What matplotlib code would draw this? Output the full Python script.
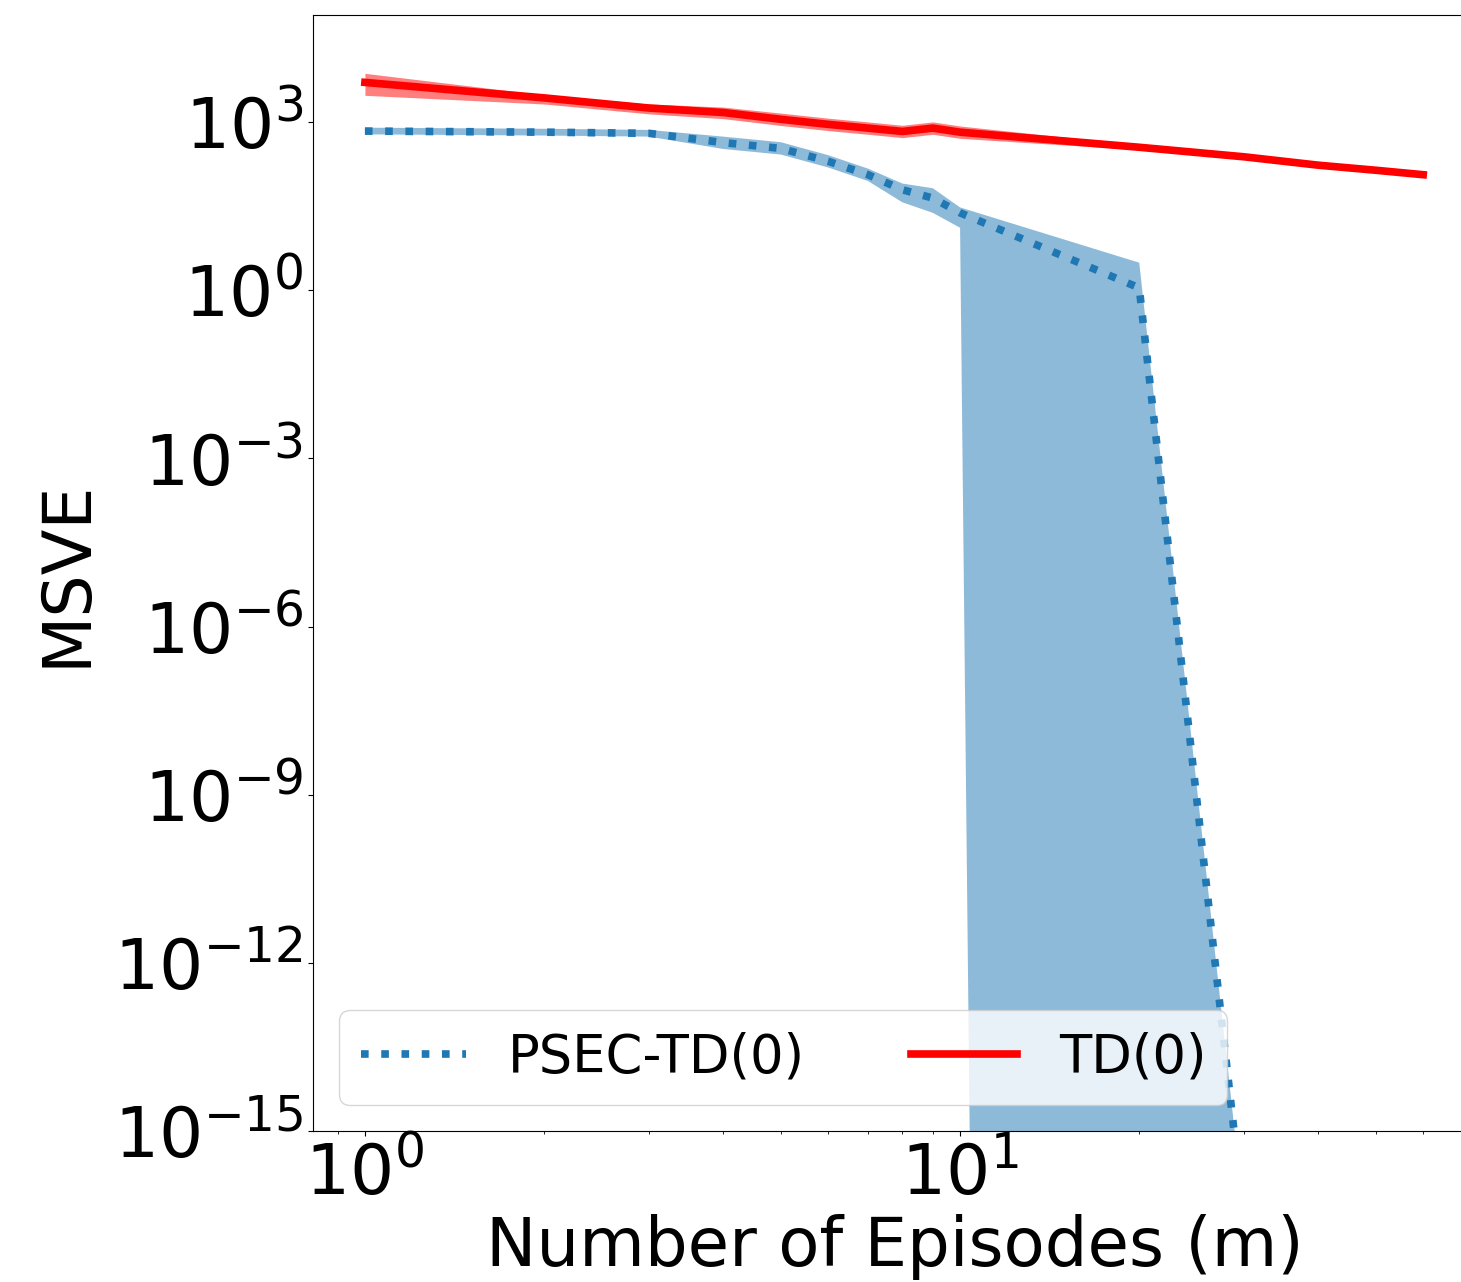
import numpy as np
import matplotlib
matplotlib.use("Agg")
import matplotlib.pyplot as plt
from matplotlib.ticker import NullLocator

# episodes
episodes = [1, 2, 3, 4, 5, 6, 7, 8, 9, 10, 20, 30, 40, 50, 60]

# PSEC-TD(0): mean and band
psec_mean = [690, 660, 630, 430, 339, 200, 115, 62, 44, 24, 1.1, 2.6e-17, 1e-300, 1e-300, 1e-300]
psec_hi = [794, 759, 724, 550, 437, 257, 148, 80, 66, 30, 3.1, 3e-17, 1e-300, 1e-300, 1e-300]
psec_lo = [603, 575, 550, 331, 263, 155, 89, 37, 24, 13, 1e-300, 1e-300, 1e-300, 1e-300, 1e-300]

# TD(0): mean and band
td_mean = [5100, 2700, 1780, 1480, 1120, 910, 780, 680, 780, 660, 355, 240, 170, 138, 115]
td_hi = [7400, 3050, 2100, 1850, 1445, 1174, 1006, 877, 1006, 851, 390, 264, 187, 152, 126]
td_lo = [3000, 2100, 1400, 1150, 868, 705, 605, 527, 605, 512, 322, 218, 155, 125, 105]

fig = plt.figure(figsize=(14.61, 12.82), dpi=100)
ax = fig.add_axes([313 / 1461, 151 / 1282, (1476 - 313) / 1461, 1116 / 1282])

ax.plot(episodes, psec_mean, ':', color='tab:blue', lw=5.5, label='PSEC-TD(0)')
ax.fill_between(episodes, psec_lo, psec_hi, color='tab:blue', alpha=0.5, lw=0)
ax.plot(episodes, td_mean, '-', color='red', lw=5.5, label='TD(0)')
ax.fill_between(episodes, td_lo, td_hi, color='red', alpha=0.5, lw=0)

ax.set_xscale('log')
ax.set_yscale('log')
ax.set_xlim(0.818, 73.6)
ax.set_ylim(1e-15, 10 ** 4.91)
ax.set_yticks([10.0 ** k for k in range(-15, 4, 3)])
ax.yaxis.set_minor_locator(NullLocator())

ax.tick_params(labelsize=50)
ax.set_xlabel('Number of Episodes (m)', fontsize=48.5)
ax.set_ylabel('MSVE', fontsize=48, labelpad=10)
ax.legend(loc='lower left', ncol=2, fontsize=38)

fig.savefig('out.png', dpi=100)
